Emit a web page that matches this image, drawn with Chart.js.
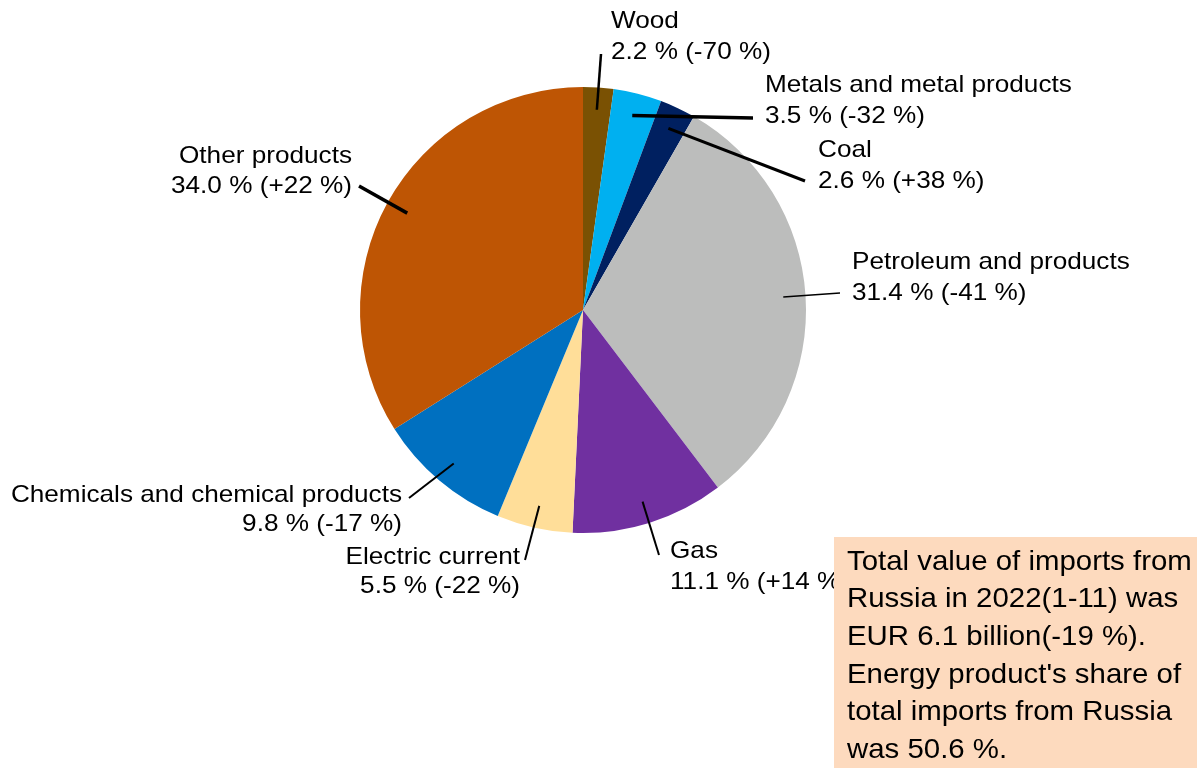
<!DOCTYPE html>
<html>
<head>
<meta charset="utf-8">
<script src="https://cdn.jsdelivr.net/npm/chart.js@4"></script>
<style>
  body { margin: 0; background: #fff; }
  #wrap { width: 1197px; height: 768px; position: relative; }
</style>
</head>
<body>
<div id="wrap"><canvas id="pie" width="1197" height="768"></canvas></div>
<script>
// data
let categories = ["Wood", "Metals and metal products", "Coal", "Petroleum and products", "Gas", "Electric current", "Chemicals and chemical products", "Other products"]
let shares = [2.2, 3.5, 2.6, 31.4, 11.1, 5.5, 9.8, 34.0]
let changes = [-70, -32, 38, -41, 14, -22, -17, 22]
let colors = ["#7A5103", "#00B0F0", "#002060", "#BCBDBC", "#7030A0", "#FFDE99", "#0070C0", "#BE5504"]
let note_lines = ["Total value of imports from", "Russia in 2022(1-11) was", "EUR 6.1 billion(-19 %).", "Energy product's share of", "total imports from Russia", "was 50.6 %."]

// where each label sits (line end, text lines)
let label_layout = [
    { end: [601, 54], lw: 2.5, lines: [[611, 21, "left"], [611, 52, "left"]] },
    { end: [753, 118], lw: 3.5, lines: [[765, 85, "left"], [765, 116, "left"]] },
    { end: [805, 181], lw: 3, lines: [[818, 150, "left"], [818, 181, "left"]] },
    { end: [840, 293], lw: 1.5, lines: [[852, 262, "left"], [852, 293, "left"]] },
    { end: [659, 555], lw: 2, lines: [[670, 551, "left"], [670, 582, "left"]] },
    { end: [525, 560], lw: 2, lines: [[520, 557, "right"], [520, 586, "right"]] },
    { end: [409, 498], lw: 2, lines: [[402, 495, "right"], [402, 524, "right"]] },
    { end: [359, 186], lw: 3.5, lines: [[352, 156, "right"], [352, 186, "right"]] }
]

function fmt_change(c) {
    return (c > 0 ? "+" : "") + c + " %"
}

// text a bit wider than the font gives, like the picture
function draw_text(ctx, text, x, y, align, sx) {
    ctx.save()
    ctx.translate(x, y)
    ctx.scale(sx, 1)
    ctx.textAlign = align
    ctx.fillText(text, 0, 0)
    ctx.restore()
}

let label_plugin = {
    id: "labels",
    afterDatasetsDraw(chart) {
        let ctx = chart.ctx
        let arcs = chart.getDatasetMeta(0).data
        ctx.save()
        ctx.fillStyle = "#000"
        ctx.strokeStyle = "#000"
        ctx.font = "24px 'Liberation Sans', Arial, sans-serif"
        ctx.textBaseline = "middle"
        for (let i = 0; i < arcs.length; i++) {
            let a = arcs[i]
            let mid = (a.startAngle + a.endAngle) / 2
            let sx = a.x + Math.cos(mid) * a.outerRadius * 0.9
            let sy = a.y + Math.sin(mid) * a.outerRadius * 0.9
            let lay = label_layout[i]
            ctx.lineWidth = lay.lw
            ctx.beginPath()
            ctx.moveTo(sx, sy)
            ctx.lineTo(lay.end[0], lay.end[1])
            ctx.stroke()
            let texts = [categories[i], shares[i].toFixed(1) + " % (" + fmt_change(changes[i]) + ")"]
            for (let j = 0; j < 2; j++) {
                draw_text(ctx, texts[j], lay.lines[j][0], lay.lines[j][1], lay.lines[j][2], 1.09)
            }
        }
        // note box on top
        ctx.fillStyle = "#FDDABE"
        ctx.fillRect(834, 537, 363, 231)
        ctx.fillStyle = "#000"
        ctx.font = "28px 'Liberation Sans', Arial, sans-serif"
        for (let k = 0; k < note_lines.length; k++) {
            draw_text(ctx, note_lines[k], 847, 562 + k * 37.6, "left", 1.05)
        }
        ctx.restore()
    }
}

let my_chart = new Chart(document.getElementById("pie"), {
    type: "pie",
    data: {
        labels: categories,
        datasets: [{
            data: shares,
            backgroundColor: colors,
            borderWidth: 0
        }]
    },
    options: {
        responsive: false,
        animation: false,
        layout: { padding: { left: 360, right: 391, top: 87, bottom: 235 } },
        plugins: {
            legend: { display: false },
            tooltip: { enabled: false }
        }
    },
    plugins: [label_plugin]
})
</script>
</body>
</html>
